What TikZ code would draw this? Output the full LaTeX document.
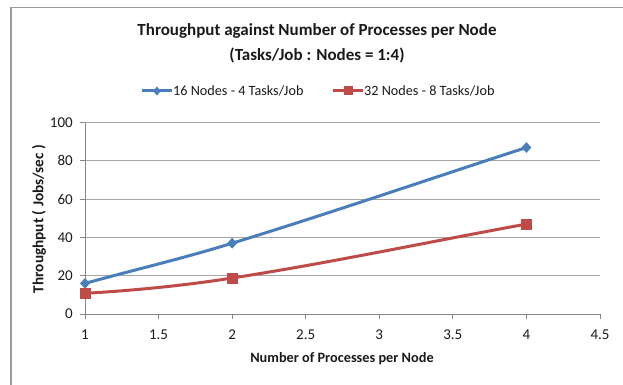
\documentclass[tikz,border=0pt]{standalone}
\usepackage{fontspec}
\setmainfont{Carlito}
\usetikzlibrary{shapes.geometric}
\definecolor{serblue}{HTML}{4A7EBB}
\definecolor{serred}{HTML}{BE4B48}
\definecolor{gridgray}{HTML}{A6A6A6}
\definecolor{axisgray}{HTML}{868686}
\definecolor{framegray}{HTML}{9C9C9C}
\definecolor{labelblack}{HTML}{1A1A1A}
\tikzset{
  titletext/.style={font=\fontsize{17}{20}\selectfont\bfseries, text=labelblack, inner sep=0pt},
  legendtext/.style={font=\fontsize{14.2}{17}\selectfont, text=labelblack, anchor=west, inner sep=0pt},
  ticktext/.style={font=\fontsize{15}{18}\selectfont, text=labelblack, inner sep=0pt},
  axistitle/.style={font=\fontsize{14.3}{17}\selectfont\bfseries, text=labelblack, inner sep=0pt},
  gridline/.style={draw=gridgray, line width=1pt},
  axisline/.style={draw=axisgray, line width=1pt},
  blueline/.style={draw=serblue, line width=3pt, line cap=round, line join=round},
  redline/.style={draw=serred, line width=3pt, line cap=round, line join=round},
  bluemark/.style={diamond, fill=serblue, inner sep=0pt, minimum width=10pt, minimum height=11pt},
  redmark/.style={rectangle, fill=serred, inner sep=0pt, minimum size=11pt},
}
\begin{document}
\begin{tikzpicture}[x=1pt, y=-1pt]
\useasboundingbox (0,0) rectangle (623,385);
% chart frame
\draw[framegray, line width=1.2pt] (11,385) -- (11,7.5) -- (623,7.5);

% titles
\node[titletext] (title1) at (317,31) {Throughput against Number of Processes per Node};
\node[titletext] (title2) at (317,55) {(Tasks/Job : Nodes = 1:4)};

% legend
\coordinate (lgA1) at (142,91);
\coordinate (lgA2) at (172,91);
\draw[blueline, line cap=butt] (lgA1) -- (lgA2);
\node[bluemark, minimum width=8pt, minimum height=9pt] (lgAm) at (157,91) {};
\node[legendtext] (lgAt) at (173,91) {16 Nodes - 4 Tasks/Job};
\coordinate (lgB1) at (333,91);
\coordinate (lgB2) at (363,91);
\draw[redline, line cap=butt] (lgB1) -- (lgB2);
\node[redmark, minimum size=9pt] (lgBm) at (348,91) {};
\node[legendtext] (lgBt) at (364,91) {32 Nodes - 8 Tasks/Job};

% plot area: data coordinates (x-1, value)
\begin{scope}[shift={(85,314)}, x=147.14pt, y=1.9135pt]
  \foreach \v in {20,40,60,80,100} {
    \draw[gridline] (0,\v) -- (3.5,\v);
  }
  \foreach \v in {0,20,40,60,80,100} {
    \draw[axisline] (-5pt,\v) -- (0,\v);
    \node[ticktext, anchor=east] (yl\v) at ([xshift=-12pt]0,\v) {\v};
  }
  \foreach \t/\lab [count=\i] in {0/1,0.5/1.5,1/2,1.5/2.5,2/3,2.5/3.5,3/4,3.5/4.5} {
    \draw[axisline] (\t,0) -- ([yshift=-5pt]\t,0);
    \node[ticktext] (xl\i) at ([yshift=-21pt]\t,0) {\lab};
  }
  \draw[axisline] (0,100) -- (0,0) -- (3.5,0);

  % series data points
  \coordinate (b1) at (0,16);
  \coordinate (b2) at (1,37);
  \coordinate (b4) at (3,87);
  \coordinate (r1) at (0,10.8);
  \coordinate (r2) at (1,18.8);
  \coordinate (r4) at (3,47);
  % smoothed series lines
  \draw[blueline] (b1) .. controls (0.33,23) and (0.67,29.1) .. (b2)
                       .. controls (1.67,52.8) and (2.33,70.3) .. (b4);
  \draw[redline] (r1) .. controls (0.33,12.3) and (0.67,14.8) .. (r2)
                      .. controls (1.67,26.8) and (2.33,37.6) .. (r4);
  \node[bluemark] (mb1) at (b1) {};
  \node[bluemark] (mb2) at (b2) {};
  \node[bluemark] (mb4) at (b4) {};
  \node[redmark] (mr1) at (r1) {};
  \node[redmark] (mr2) at (r2) {};
  \node[redmark] (mr4) at (r4) {};
\end{scope}

% axis titles
\node[axistitle] (xtitle) at (342,359) {Number of Processes per Node};
\node[axistitle, font=\fontsize{15.3}{18}\selectfont\bfseries, rotate=90] (ytitle) at (39,219) {Throughput ( Jobs/sec )};
\end{tikzpicture}
\end{document}
